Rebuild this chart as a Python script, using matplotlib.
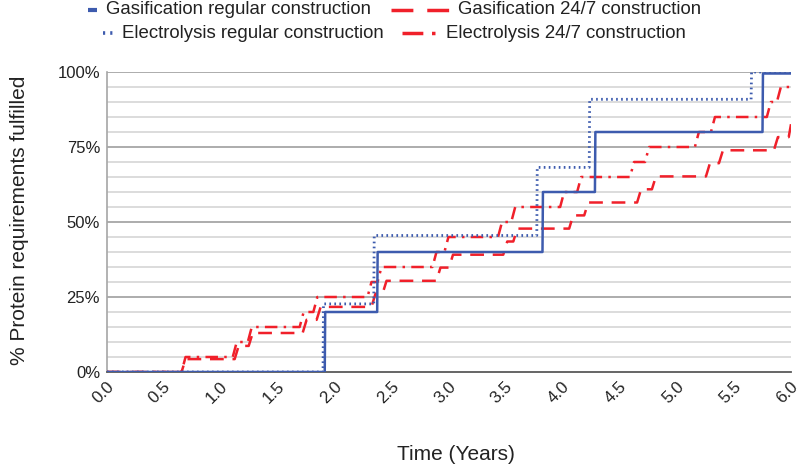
import matplotlib
matplotlib.use("Agg")
import matplotlib.pyplot as plt
import matplotlib.transforms as mtransforms
from matplotlib.lines import Line2D

# Data (time in years, % fulfilled)
gasi_reg_times = [1.91, 2.37, 3.82, 4.28, 5.75]
gasi_reg_levels = [20.0, 40.0, 60.0, 80.0, 99.5]

elec_reg_times = [1.895, 2.34, 3.77, 4.23, 5.65]
elec_reg_levels = [22.7, 45.5, 68.2, 90.9, 100.0]

gasi_247_times = [0.654, 1.12, 1.243, 1.716, 1.839, 2.32, 2.417, 2.89, 3.00, 3.476,
                  3.564, 4.054, 4.186, 4.65, 4.78, 5.254, 5.368, 5.85, 5.98]
gasi_247_levels = [4.3, 8.7, 13.0, 17.4, 21.7, 26.1, 30.4, 34.8, 39.1, 43.5,
                   47.8, 52.2, 56.5, 60.9, 65.2, 69.6, 73.9, 78.3, 82.6]

elec_247_times = [0.654, 1.103, 1.235, 1.69, 1.81, 2.285, 2.373, 2.855, 2.96, 3.43,
                  3.546, 3.975, 4.124, 4.588, 4.72, 5.157, 5.298, 5.788, 5.876]
elec_247_levels = [5, 10, 15, 20, 25, 30, 35, 40, 45, 50,
                   55, 60, 65, 70, 75, 80, 85, 90, 95]

x_ticks = [0.0, 0.5, 1.0, 1.5, 2.0, 2.5, 3.0, 3.5, 4.0, 4.5, 5.0, 5.5, 6.0]
y_ticks = [0, 25, 50, 75, 100]
y_tick_labels = ["0%", "25%", "50%", "75%", "100%"]

series_labels = [
    "Gasification regular construction",
    "Gasification 24/7 construction",
    "Electrolysis regular construction",
    "Electrolysis 24/7 construction",
]

T_END = 6.0
BLUE = "#3D5BAE"
RED = "#F0202A"
DASH = (5.5, 3.5)
DASHDOT = (5, 2.5, 1, 2.5)
DOT = (0.6, 1.2)

plt.rcParams["font.family"] = ["Liberation Sans", "DejaVu Sans"]


def step_path(times, levels, ramp):
    """Turn step times/levels into a polyline with short sloped risers."""
    xs, ys = [0.0], [0.0]
    prev = 0.0
    for t, v in zip(times, levels):
        xs += [t, min(t + ramp, T_END)]
        ys += [prev, v]
        prev = v
    xs.append(T_END)
    ys.append(prev)
    return xs, ys


W, H = 800, 465
fig = plt.figure(figsize=(W / 100, H / 100), dpi=100)
ax = fig.add_axes([107 / W, 1 - 372 / H, 684 / W, 300 / H])

# grid: light lines every 5 %, darker at quarter marks
for g in range(5, 100, 5):
    if g % 25:
        ax.axhline(g, color="#d9d9d9", lw=1.3, zorder=0)
for g in y_ticks[1:]:
    ax.axhline(g, color="#a6a6a6", lw=1.3, zorder=0)

xs, ys = step_path(gasi_247_times, gasi_247_levels, 0.035)
ax.plot(xs, ys, color=RED, lw=1.8, dashes=DASH, zorder=3)

xs, ys = step_path(elec_247_times, elec_247_levels, 0.035)
ax.plot(xs, ys, color=RED, lw=1.8, dashes=DASHDOT, zorder=3)

xs, ys = step_path(elec_reg_times, elec_reg_levels, 0.004)
ax.plot(xs, ys, color=BLUE, lw=2.0, dashes=DOT, zorder=4)

xs, ys = step_path(gasi_reg_times, gasi_reg_levels, 0.004)
ax.plot(xs, ys, color=BLUE, lw=1.8, zorder=4)

ax.set_xlim(0, T_END)
ax.set_ylim(0, 100)
ax.set_yticks(y_ticks)
ax.set_yticklabels(y_tick_labels, fontsize=12, color="#222222")
ax.tick_params(length=0, pad=5)

# x tick labels as plain texts so they can sit a little left of the tick
ax.set_xticks(x_ticks)
ax.set_xticklabels([])
shift = mtransforms.ScaledTranslation(-4 / 100, -7 / 100, fig.dpi_scale_trans)
for t in x_ticks:
    ax.text(t, 0, f"{t:.1f}", transform=ax.get_xaxis_transform() + shift,
            rotation=45, ha="center", va="top", fontsize=12.2,
            color="#222222", clip_on=False)

for side in ["top", "right"]:
    ax.spines[side].set_visible(False)
ax.spines["left"].set_color("#a6a6a6")
ax.spines["bottom"].set_color("#595959")
ax.spines["left"].set_linewidth(1.2)
ax.spines["bottom"].set_linewidth(1.3)

fig.text(0.024, 0.527, "% Protein requirements fulfilled", rotation=90,
         ha="center", va="center", fontsize=15, color="#222222")
fig.text(0.57, 0.022, "Time (Years)", ha="center", va="center",
         fontsize=15, color="#222222")

# legend laid out by hand (Excel style: short handles, rows centred)
legend_items = [
    # (label, colour, dashes, lw, handle x0, x1, text x, row y) in pixels
    (series_labels[0], BLUE, None, 3.0, 88, 97, 106, 10),
    (series_labels[1], RED, (6.3, 4), 2.5, 391, 449, 458, 10),
    (series_labels[2], BLUE, (0.6, 1.4), 2.6, 103, 113, 122, 33),
    (series_labels[3], RED, (6, 2.5, 1, 2.5), 2.5, 402, 438, 446, 33),
]
for label, color, dashes, lw, x0, x1, tx, ry in legend_items:
    y = 1 - ry / H
    ln = Line2D([x0 / W, x1 / W], [y, y], transform=fig.transFigure,
                color=color, lw=lw, solid_capstyle="butt")
    if dashes:
        ln.set_dashes(dashes)
    fig.add_artist(ln)
    fig.text(tx / W, y, label, ha="left", va="center", fontsize=13.4,
             color="#222222")

fig.savefig("out.png", dpi=100)
